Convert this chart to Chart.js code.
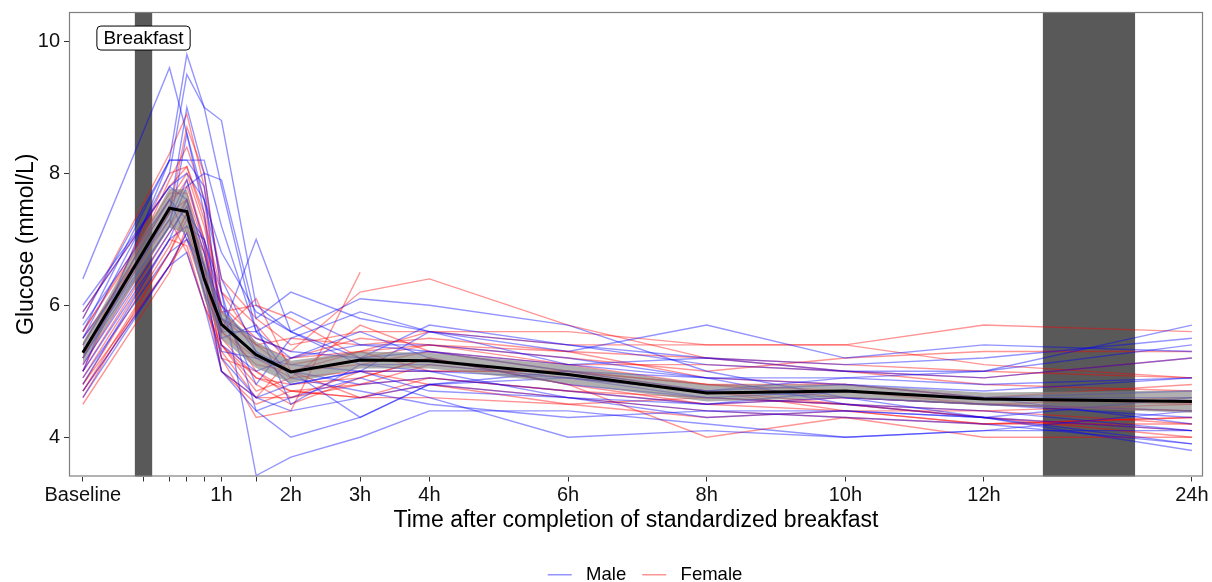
<!DOCTYPE html>
<html>
<head>
<meta charset="utf-8">
<title>Glucose after standardized breakfast</title>
<script src="https://cdn.jsdelivr.net/npm/chart.js@4.4.1/dist/chart.umd.min.js"></script>
<style>
  html, body { margin: 0; padding: 0; background: #fff; }
  #wrap { width: 1212px; height: 582px; }
</style>
</head>
<body>
<div id="wrap"><canvas id="glucoseChart" width="1212" height="582"></canvas></div>
<script>
// sampling positions on the x axis (24h is squeezed in at position 15)
const timePoints = [-1, 0.25, 0.5, 0.75, 1, 1.5, 2, 3, 4, 6, 8, 10, 12, 15];
const tickPositions = [-1, -0.125, 0.25, 0.5, 0.75, 1, 1.5, 2, 3, 4, 6, 8, 10, 12, 15];
const tickLabels = ['Baseline', '', '', '', '', '1h', '', '2h', '3h', '4h', '6h', '8h', '10h', '12h', '24h'];
const yTicks = [4, 6, 8, 10];

// breakfast and night shading, in x positions
const breakfastBand = [-0.25, 0];
const nightBand = [12.85, 14.18];

// mean curve and its confidence ribbon
const meanGlucose = [5.28, 7.47, 7.42, 6.40, 5.71, 5.25, 4.99, 5.17, 5.16, 4.95, 4.67, 4.70, 4.58, 4.54];
const ciUpper = [5.44, 7.77, 7.75, 6.70, 5.93, 5.45, 5.16, 5.30, 5.28, 5.09, 4.80, 4.80, 4.68, 4.71];
const ciLower = [5.12, 7.17, 7.09, 6.10, 5.49, 5.05, 4.82, 5.04, 5.04, 4.81, 4.54, 4.60, 4.48, 4.37];

// individual participants
const maleSeries = [
  [6.4, 9.6, 8.6, 7.6, 6.4, 5.3, 5.0, 4.8, 4.9, 4.7, 4.5, 4.6, 4.5, 4.3],
  [5.6, 8.2, 9.8, 9.0, 7.8, 5.6, 5.2, 5.4, 5.3, 5.1, 4.9, 4.8, 4.7, 4.9],
  [5.5, 8.0, 9.5, 9.0, 8.8, 6.0, 5.6, 5.1, 5.0, 4.9, 4.6, 4.5, 4.4, 4.1],
  [5.2, 7.4, 9.0, 8.0, 6.2, 4.4, 4.0, 4.3, 4.8, 4.6, 4.4, 4.3, 4.2, 3.9],
  [5.0, 8.2, 8.2, 7.8, 5.6, 7.0, 5.6, 5.2, 5.3, 5.0, 4.9, 4.9, 5.0, 5.7],
  [5.3, 7.2, 7.8, 8.0, 7.9, 5.8, 6.2, 5.8, 5.6, 5.4, 5.2, 5.1, 5.2, 5.5],
  [4.8, 7.0, 7.2, 7.0, 6.2, 3.42, 3.7, 4.0, 4.4, 4.4, 4.2, 4.0, 4.1, 4.4],
  [5.9, 7.8, 8.0, 7.6, 6.8, 5.9, 5.6, 6.1, 6.0, 5.7, 5.0, 4.6, 4.3, 3.8],
  [5.4, 7.6, 7.3, 6.6, 6.0, 5.3, 4.8, 5.0, 5.0, 4.6, 4.3, 4.4, 4.3, 4.6],
  [5.1, 7.1, 7.5, 6.2, 5.2, 4.6, 4.8, 5.0, 5.6, 5.3, 5.7, 5.2, 5.4, 5.3],
  [5.7, 7.6, 7.0, 6.6, 5.4, 5.0, 5.2, 5.6, 5.2, 4.8, 4.6, 4.7, 4.6, 4.7],
  [4.9, 6.8, 7.0, 6.4, 5.0, 4.4, 4.6, 4.9, 4.6, 4.0, 4.1, 4.0, 4.1, 4.1],
  [5.2, 7.2, 8.6, 7.4, 5.3, 5.2, 5.0, 4.3, 4.8, 4.9, 4.7, 4.9, 4.8, 4.9],
  [6.0, 7.8, 7.6, 6.8, 5.8, 5.5, 5.3, 5.2, 5.7, 5.4, 5.1, 5.0, 4.9, 5.2],
  [5.5, 7.3, 7.9, 6.9, 5.5, 5.7, 4.5, 5.1, 5.1, 4.9, 4.7, 4.8, 4.6, 4.2],
  [4.7, 6.6, 6.8, 6.0, 5.0, 4.6, 4.4, 4.6, 4.8, 5.0, 4.7, 4.6, 4.5, 4.4],
  [5.8, 8.2, 8.2, 8.2, 7.2, 5.6, 5.9, 5.4, 5.4, 5.2, 4.9, 4.5, 4.3, 3.9],
  [5.0, 7.0, 7.6, 6.6, 5.8, 5.2, 5.1, 5.0, 4.7, 4.6, 4.5, 4.7, 4.6, 4.6],
  [5.3, 7.5, 7.4, 7.0, 6.0, 4.8, 5.5, 5.9, 5.6, 5.1, 5.2, 5.0, 5.0, 5.4],
  [4.6, 6.6, 7.1, 6.2, 5.6, 5.6, 4.9, 4.7, 4.5, 4.3, 4.4, 4.4, 4.3, 4.1]
];
const femaleSeries = [
  [5.8, 8.3, 8.9, 7.8, 6.4, 5.8, 5.4, 5.6, 5.6, 5.6, 5.4, 5.4, 5.7, 5.6],
  [5.3, 7.4, 8.7, 8.0, 6.2, 5.4, 5.0, 4.6, 4.9, 4.7, 4.5, 4.4, 4.2, 4.3],
  [5.0, 7.9, 8.4, 7.6, 5.8, 5.0, 4.6, 4.8, 5.1, 4.9, 4.7, 4.5, 4.4, 4.5],
  [4.7, 6.8, 7.4, 6.6, 5.2, 4.3, 4.4, 6.5, null, null, null, null, null, null],
  [5.6, 7.6, 8.0, 7.2, 6.0, 5.5, 5.3, 6.2, 6.4, 5.7, 5.2, 5.0, 4.8, 4.7],
  [4.5, 6.5, 7.2, 6.4, 5.4, 4.9, 4.8, 4.9, 5.2, 4.8, 4.0, 4.3, 4.0, 4.0],
  [5.1, 7.2, 7.6, 6.8, 5.6, 5.2, 4.9, 5.0, 5.0, 5.0, 4.8, 4.6, 4.5, 4.4],
  [4.9, 7.0, 6.9, 6.0, 5.3, 4.6, 5.2, 5.3, 5.6, 5.4, 5.4, 5.4, 5.1, 4.9],
  [5.4, 7.6, 7.8, 7.0, 5.9, 6.0, 5.8, 5.2, 5.4, 5.2, 5.0, 5.2, 5.3, 5.3],
  [4.8, 6.6, 7.0, 6.2, 5.0, 4.6, 4.6, 5.0, 4.8, 4.6, 4.4, 4.3, 4.2, 4.2],
  [5.2, 8.0, 8.1, 7.4, 5.9, 5.4, 5.5, 5.4, 5.5, 5.3, 4.9, 4.8, 4.6, 4.5],
  [4.6, 6.8, 7.3, 6.8, 5.5, 4.9, 4.7, 4.6, 4.6, 4.5, 4.6, 4.5, 4.3, 4.0],
  [5.5, 7.4, 7.6, 6.4, 5.6, 6.1, 5.0, 5.3, 5.0, 5.0, 4.8, 4.8, 4.6, 4.8],
  [5.0, 7.1, 7.5, 6.6, 5.4, 4.8, 4.5, 4.9, 5.2, 4.8, 4.5, 4.6, 4.5, 4.6],
  [5.9, 7.8, 8.1, 7.3, 6.2, 5.7, 5.1, 5.3, 5.4, 5.1, 5.1, 5.0, 4.9, 5.2],
  [5.3, 7.3, 6.8, 6.0, 5.4, 4.7, 4.9, 5.7, 5.3, 5.0, 4.7, 4.4, 4.2, 4.3],
  [4.8, 6.9, 7.4, 6.5, 5.2, 5.0, 4.7, 4.6, 4.8, 4.5, 4.3, 4.4, 4.4, 4.2],
  [5.6, 7.7, 7.7, 6.9, 5.8, 5.4, 5.2, 5.5, 5.4, 5.3, 5.2, 5.1, 5.0, 4.9],
  [4.7, 6.6, 7.1, 6.4, 5.0, 4.5, 4.7, 4.8, 4.9, 4.7, 4.6, 4.5, 4.3, 4.1],
  [5.2, 7.5, 7.9, 7.0, 5.6, 5.1, 5.0, 5.1, 5.3, 5.1, 4.8, 4.7, 4.5, 4.4]
];

const maleColor = 'rgba(0, 0, 255, 0.42)';
const femaleColor = 'rgba(255, 0, 0, 0.42)';
const fontFamily = '"Liberation Sans", Arial, sans-serif';

function toPoints(values) {
  return values.map((v, i) => ({ x: timePoints[i], y: v }));
}

function personDataset(values, color, label) {
  return {
    label: label,
    data: toPoints(values),
    borderColor: color,
    borderWidth: 1.4,
    pointRadius: 0,
    tension: 0,
    fill: false,
    order: 3
  };
}

const datasets = [
  {
    label: 'mean',
    data: toPoints(meanGlucose),
    borderColor: '#000',
    borderWidth: 3,
    pointRadius: 0,
    tension: 0,
    fill: false,
    order: 0
  },
  {
    label: 'ciUpper',
    data: toPoints(ciUpper),
    borderWidth: 0,
    borderColor: 'rgba(0,0,0,0)',
    backgroundColor: 'rgba(128, 128, 128, 0.62)',
    pointRadius: 0,
    tension: 0,
    fill: '+1',
    order: 1
  },
  {
    label: 'ciLower',
    data: toPoints(ciLower),
    borderWidth: 0,
    borderColor: 'rgba(0,0,0,0)',
    pointRadius: 0,
    tension: 0,
    fill: false,
    order: 2
  }
];
maleSeries.forEach(s => datasets.push(personDataset(s, maleColor, 'Male')));
femaleSeries.forEach(s => datasets.push(personDataset(s, femaleColor, 'Female')));

// shaded bands behind the lines, frame and the breakfast tag on top
const decorPlugin = {
  id: 'decor',
  afterLayout(chart) {
    // legend sits a little right of the panel centre in the original
    if (chart.legend) {
      chart.legend.left += 9;
      chart.legend.right += 9;
    }
  },
  beforeDatasetsDraw(chart) {
    const { ctx, chartArea, scales } = chart;
    ctx.save();
    ctx.fillStyle = '#595959';
    [breakfastBand, nightBand].forEach(b => {
      const x0 = scales.x.getPixelForValue(b[0]);
      const x1 = scales.x.getPixelForValue(b[1]);
      ctx.fillRect(x0, chartArea.top, x1 - x0, chartArea.bottom - chartArea.top);
    });
    ctx.restore();
  },
  afterDatasetsDraw(chart) {
    const { ctx, chartArea, scales } = chart;
    ctx.save();
    ctx.strokeStyle = '#7f7f7f';
    ctx.lineWidth = 1.2;
    ctx.strokeRect(chartArea.left + 0.5, chartArea.top + 0.5,
      chartArea.right - chartArea.left - 1, chartArea.bottom - chartArea.top - 1);

    const cx = scales.x.getPixelForValue(-0.125);
    const cy = scales.y.getPixelForValue(10.05);
    ctx.font = '19px ' + fontFamily;
    const w = ctx.measureText('Breakfast').width + 13;
    const h = 24;
    ctx.beginPath();
    ctx.roundRect(cx - w / 2, cy - h / 2, w, h, 4);
    ctx.fillStyle = '#fff';
    ctx.fill();
    ctx.strokeStyle = '#000';
    ctx.lineWidth = 1;
    ctx.stroke();
    ctx.fillStyle = '#000';
    ctx.textAlign = 'center';
    ctx.textBaseline = 'middle';
    ctx.fillText('Breakfast', cx, cy + 1);
    ctx.restore();
  }
};

const ctx = document.getElementById('glucoseChart').getContext('2d');
new Chart(ctx, {
  type: 'line',
  data: { datasets: datasets },
  options: {
    responsive: false,
    animation: false,
    devicePixelRatio: 1,
    layout: { padding: { top: 12, right: 9, left: 0, bottom: -12 } },
    plugins: {
      tooltip: { enabled: false },
      legend: {
        position: 'bottom',
        fullSize: false,
        labels: {
          boxWidth: 24,
          boxHeight: 1.5,
          padding: 16,
          color: '#000',
          font: { family: fontFamily, size: 18.5 },
          generateLabels: () => [
            { text: ' Male', fillStyle: maleColor, strokeStyle: maleColor, lineWidth: 0, hidden: false },
            { text: ' Female', fillStyle: femaleColor, strokeStyle: femaleColor, lineWidth: 0, hidden: false }
          ]
        }
      }
    },
    scales: {
      x: {
        type: 'linear',
        min: -1.2,
        max: 15.16,
        afterFit: s => { s.height = 73; s.paddingLeft = 0; s.paddingRight = 0; },
        afterBuildTicks: s => { s.ticks = tickPositions.map(v => ({ value: v })); },
        grid: { display: true, drawOnChartArea: false, drawTicks: true, tickLength: 5, color: '#333' },
        border: { display: false },
        ticks: {
          autoSkip: false,
          maxRotation: 0,
          padding: 2,
          color: '#111',
          font: { family: fontFamily, size: 20 },
          callback: v => {
            const i = tickPositions.indexOf(v);
            return i >= 0 ? tickLabels[i] : '';
          }
        },
        title: {
          display: true,
          text: 'Time after completion of standardized breakfast',
          color: '#000',
          font: { family: fontFamily, size: 23 },
          padding: { top: 4, bottom: 15 }
        }
      },
      y: {
        type: 'linear',
        min: 3.405,
        max: 10.445,
        afterFit: s => { s.width = 69; s.paddingTop = 0; s.paddingBottom = 0; },
        afterBuildTicks: s => { s.ticks = yTicks.map(v => ({ value: v })); },
        grid: { display: true, drawOnChartArea: false, drawTicks: true, tickLength: 5, color: '#333' },
        border: { display: false },
        ticks: {
          padding: 4,
          color: '#111',
          font: { family: fontFamily, size: 20 }
        },
        title: {
          display: true,
          text: 'Glucose (mmol/L)',
          color: '#000',
          font: { family: fontFamily, size: 23 },
          padding: { top: 13, bottom: 4 }
        }
      }
    }
  },
  plugins: [decorPlugin]
});
</script>
</body>
</html>
